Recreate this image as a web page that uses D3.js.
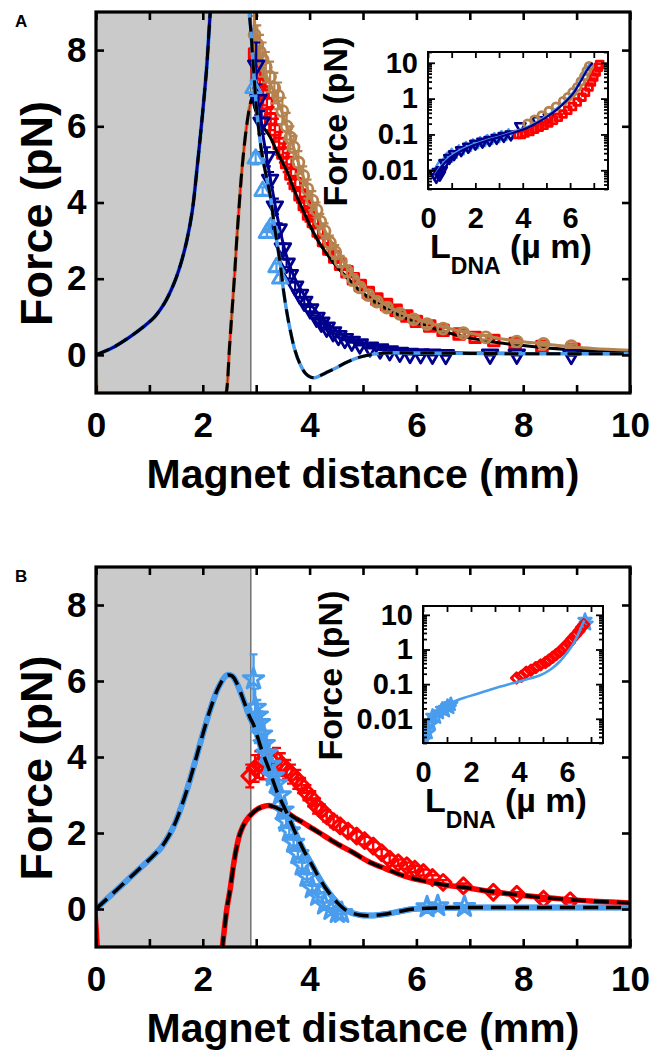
<!DOCTYPE html>
<html><head><meta charset="utf-8">
<script src="https://cdn.jsdelivr.net/npm/d3@7"></script>
<style>
body{margin:0;background:#fff}
svg{display:block}
text{font-family:"Liberation Sans",Arial,Helvetica,sans-serif;font-weight:bold;fill:#000}
</style>
</head><body>
<svg id="c" width="662" height="1053"></svg>
<script>
// ---------------- axes / ticks ----------------
const xDomain = [0, 10];
const yDomain = [-1, 9];
const xTicks = [0,1,2,3,4,5,6,7,8,9,10];
const xTickLabels = ['0','','2','','4','','6','','8','','10'];
const yTicks = [0,2,4,6,8];
const shadeEdge = 2.9;
const insetXTicks = [0,1,2,3,4,5,6,7];
const insetXTickLabels = ['0','','2','','4','','6',''];
const insetYMajor = [0.01,0.1,1,10];
const insetYMajorLabels = ['0.01','0.1','1','10'];
const insetAXDomain = [0, 7.6];
const insetAYDomain = [0.003, 20];
const insetBXDomain = [0, 7.5];
const insetBYDomain = [0.002, 18];

// ---------------- Panel A curves [mm, pN] ----------------
const aLightFitL = [[0,0],[0.3,0.18],[0.6,0.44],[0.9,0.75],[1.1,1.0],[1.2,1.18],[1.3,1.4],[1.4,1.68],[1.5,2.02],[1.6,2.45],[1.7,3.0],[1.8,3.75],[1.9,5.0],[2.0,6.4],[2.07,7.5],[2.13,8.8],[2.17,9.6]];
const aLightFitR = [[2.84,9.4],[2.9,8.5],[2.95,7.5],[3.01,6.42],[3.1,5.35],[3.18,4.75],[3.26,4.2],[3.35,3.3],[3.45,2.39],[3.51,1.7],[3.57,1.15],[3.63,0.7],[3.72,0.15],[3.82,-0.24],[3.92,-0.48],[4.01,-0.58],[4.1,-0.6],[4.19,-0.55],[4.35,-0.44],[4.51,-0.33],[4.7,-0.19],[4.94,-0.06],[5.2,0.02],[5.44,0.05],[6,0.05],[7,0.04],[8,0.03],[10,0.03]];
const aNavyFitR = [[2.86,9.4],[2.92,8.2],[2.98,7.3],[3.04,6.6],[3.1,6.0],[3.2,5.15],[3.3,4.35],[3.4,3.6],[3.5,2.95],[3.6,2.45],[3.7,2.08],[3.8,1.8],[3.9,1.57],[4.0,1.37],[4.2,1.02],[4.4,0.75],[4.6,0.55],[4.8,0.42],[5.0,0.32],[5.3,0.22],[5.6,0.15],[6.0,0.1],[6.5,0.07],[7,0.05],[8,0.04],[10,0.03]];
const aBrownFitL = [[2.42,-1.1],[2.45,-0.9],[2.5,0.2],[2.55,1.2],[2.6,2.2],[2.63,2.9],[2.68,3.9],[2.72,4.65],[2.77,5.4],[2.82,6.0],[2.87,6.45],[2.92,6.73],[2.95,6.78]];
const aBrownEdge = [[0,0],[0.01,-0.5],[0.02,-1.1]];
const aBrownFitR = [[2.955,6.8],[2.96,9.3],[2.975,8.6],[3.0,8.2],[3.1,7.7],[3.2,7.3],[3.3,7.0],[3.4,6.7],[3.5,6.3],[3.6,5.9],[3.7,5.45],[3.8,5.0],[3.9,4.6],[4.0,4.2],[4.1,3.85],[4.2,3.5],[4.35,3.1],[4.5,2.75],[4.7,2.3],[4.9,1.95],[5.1,1.65],[5.3,1.42],[5.5,1.25],[5.75,1.08],[6.0,0.95],[6.3,0.82],[6.6,0.7],[6.9,0.6],[7.3,0.5],[7.8,0.38],[8.3,0.3],[8.8,0.23],[9.3,0.17],[10,0.12]];
const aBlackFitR = [[2.93,6.78],[2.97,6.5],[3.05,6.2],[3.15,5.95],[3.26,5.72],[3.4,5.3],[3.57,4.84],[3.72,4.3],[3.88,3.79],[4.03,3.33],[4.19,2.92],[4.35,2.6],[4.5,2.33],[4.65,2.1],[4.81,1.87],[5.0,1.62],[5.2,1.42],[5.44,1.22],[5.7,1.03],[5.94,0.88],[6.2,0.75],[6.5,0.62],[6.88,0.48],[7.3,0.37],[7.82,0.27],[8.3,0.2],[8.75,0.15],[9.3,0.1],[10,0.06]];

// ---------------- Panel A data [mm, pN, error] ----------------
const aRedData = [[2.97,7.9,0.45],[3.02,7.4,0.4],[3.07,7.1,0.4],[3.13,6.9,0.35],[3.2,6.6,0.35],[3.27,6.2,0.3],[3.35,5.9,0.3],[3.43,5.55,0.3],[3.5,5.3,0.25],[3.57,5.05,0.25],[3.65,4.75,0.25],[3.73,4.5,0.2],[3.82,4.2,0.2],[3.9,3.95,0.2],[3.98,3.7,0.2],[4.07,3.5,0.18],[4.16,3.25,0.18],[4.26,3.0,0.15],[4.36,2.78,0.15],[4.47,2.57,0.15],[4.58,2.38,0.12],[4.7,2.18,0.12],[4.82,2.0,0.12],[4.95,1.82,0.1],[5.1,1.64,0.1],[5.26,1.47,0.1],[5.44,1.32,0.1],[5.62,1.17,0.08],[5.82,1.02,0.08],[6.0,0.88,0.08],[6.25,0.76,0.06],[6.5,0.65,0.06],[6.8,0.55,0.06],[7.1,0.46,0.05],[7.45,0.38,0.05],[7.85,0.3,0.05],[8.35,0.22,0.05],[8.95,0.15,0.1]];
const aBrownData = [[2.97,8.4,0.5],[3.02,8.15,0.5],[3.07,7.95,0.45],[3.12,7.75,0.45],[3.18,7.55,0.4],[3.26,7.3,0.4],[3.34,7.0,0.4],[3.41,6.8,0.35],[3.49,6.4,0.35],[3.57,6.0,0.35],[3.64,5.7,0.3],[3.7,5.45,0.3],[3.79,5.05,0.3],[3.88,4.7,0.25],[3.96,4.35,0.25],[4.05,4.05,0.25],[4.13,3.8,0.2],[4.2,3.5,0.2],[4.28,3.25,0.2],[4.38,2.95,0.18],[4.48,2.7,0.18],[4.58,2.45,0.15],[4.7,2.2,0.15],[4.82,1.97,0.15],[4.94,1.77,0.12],[5.1,1.57,0.12],[5.26,1.4,0.1],[5.45,1.24,0.1],[5.69,1.08,0.1],[5.95,0.93,0.08],[6.2,0.81,0.08],[6.5,0.69,0.07],[6.88,0.57,0.07],[7.3,0.46,0.06],[7.88,0.35,0.05],[8.38,0.29,0.05],[8.9,0.23,0.05]];
const aNavyData = [[3.0,7.6,0.6],[3.04,6.7,0.4],[3.1,6.1,0.3],[3.2,5.2,0.25],[3.26,4.6,0.2],[3.35,3.9,0.2],[3.42,3.3,0.15],[3.5,2.8,0.12],[3.57,2.4,0.1],[3.63,2.1,0.1],[3.73,1.8,0.1],[3.82,1.58,0.08],[3.9,1.4,0.08],[4.01,1.2,0.06],[4.13,0.98,0.05],[4.22,0.85,0.05],[4.32,0.72,0.05],[4.44,0.6,0.04],[4.54,0.5,0.04],[4.66,0.42,0.03],[4.79,0.35,0.03],[4.94,0.28,0.03],[5.13,0.2,0.03],[5.32,0.15,0.02],[5.5,0.1,0.02],[5.69,0.06,0.02],[5.88,0.03,0.02],[6.08,0.02,0.02],[6.3,0.01,0.02],[6.55,0.0,0.02],[7.38,0.01,0.02],[7.88,0.01,0.02],[8.9,0.0,0.02]];
const aLightData = [[2.95,7.0,0.2],[2.99,5.15,0.15],[3.12,4.3,0.1],[3.2,3.2,0.1],[3.27,3.35,0.1],[3.38,2.3,0.1],[3.45,2.0,0.1]];

// ---------------- Panel A inset [um, pN] ----------------
const iALightFit = [[0.3,0.0075],[0.5,0.012],[0.78,0.02],[1.0,0.026],[1.34,0.036],[1.8,0.05],[2.47,0.07],[3.0,0.088],[3.46,0.11],[4.17,0.16],[4.6,0.22],[5.02,0.33],[5.45,0.55],[5.86,0.95],[6.15,1.6],[6.43,3.2],[6.65,6],[6.85,10]];
const iANavyFit = [[0.3,0.007],[0.5,0.011],[0.78,0.018],[1.0,0.024],[1.34,0.033],[1.8,0.046],[2.47,0.066],[3.0,0.084],[3.46,0.105],[4.17,0.15],[4.6,0.21],[5.02,0.31],[5.45,0.5],[5.86,0.88],[6.15,1.45],[6.43,2.9],[6.7,6],[6.95,10]];
const iALight = [[0.5,0.013],[0.8,0.021],[1.0,0.027],[1.3,0.034],[1.6,0.042],[1.9,0.05],[2.2,0.058],[2.5,0.066],[2.8,0.075],[3.1,0.085],[3.4,0.095]];
const iANavy = [[0.28,0.008],[0.35,0.0065],[0.42,0.009],[0.5,0.0075],[0.58,0.01],[0.7,0.016],[0.9,0.022],[1.1,0.028],[1.4,0.036],[1.7,0.045],[2.0,0.055],[2.3,0.063],[2.6,0.07],[2.9,0.08],[3.2,0.09],[3.5,0.1],[3.9,0.17],[4.6,0.25],[5.1,0.3]];
const iARed = [[3.8,0.1],[3.95,0.1],[4.1,0.11],[4.3,0.12],[4.5,0.14],[4.7,0.16],[4.9,0.18],[5.1,0.21],[5.3,0.25],[5.5,0.3],[5.7,0.37],[5.9,0.47],[6.1,0.6],[6.3,0.8],[6.5,1.1],[6.65,1.5],[6.8,2.1],[6.9,2.9],[7.0,4.0],[7.1,5.5],[7.2,7.5],[7.25,9]];
const iABrown = [[4.2,0.2],[4.5,0.26],[4.8,0.34],[5.1,0.45],[5.4,0.6],[5.7,0.85],[5.9,1.1],[6.1,1.5],[6.3,2.1],[6.45,3],[6.6,4.2],[6.7,6],[6.8,8]];

// ---------------- Panel B curves ----------------
const bBlueFit = [[0,0],[0.2,0.26],[0.4,0.52],[0.6,0.78],[0.8,1.04],[1.0,1.3],[1.1,1.44],[1.2,1.58],[1.3,1.78],[1.4,2.02],[1.5,2.32],[1.6,2.7],[1.7,3.12],[1.8,3.6],[1.9,4.1],[2.0,4.6],[2.15,5.3],[2.3,5.85],[2.45,6.15],[2.55,6.13],[2.65,5.9],[2.76,5.5],[2.88,5.05],[2.95,4.85],[3.1,4.2],[3.26,3.6],[3.4,3.05],[3.57,2.54],[3.72,2.05],[3.88,1.57],[4.05,1.15],[4.19,0.79],[4.35,0.45],[4.51,0.18],[4.7,-0.05],[4.94,-0.16],[5.2,-0.17],[5.44,-0.13],[5.7,-0.06],[5.94,0.0],[6.5,0.03],[7,0.04],[8,0.04],[10,0.04]];
const bRedEdge = [[0,0],[0.02,-0.4],[0.05,-1.1]];
const bRedFit = [[2.36,-1.1],[2.45,0.0],[2.51,0.5],[2.58,1.2],[2.63,1.6],[2.7,2.0],[2.8,2.3],[2.95,2.55],[3.1,2.68],[3.26,2.72],[3.4,2.65],[3.57,2.54],[3.72,2.4],[3.88,2.27],[4.05,2.12],[4.19,2.0],[4.5,1.73],[4.81,1.49],[5.1,1.25],[5.44,1.05],[5.75,0.88],[6.07,0.76],[6.5,0.64],[6.88,0.57],[7.5,0.44],[8.1,0.34],[8.75,0.26],[9.4,0.2],[10,0.16]];
const bRedData = [[2.88,3.5,0.3],[2.98,3.7,0.35],[3.05,3.8,0.35],[3.13,3.76,0.35],[3.2,3.85,0.3],[3.28,3.9,0.3],[3.38,3.94,0.3],[3.47,3.8,0.3],[3.57,3.67,0.25],[3.66,3.55,0.25],[3.76,3.41,0.25],[3.85,3.25,0.2],[3.95,3.06,0.2],[4.04,2.9,0.2],[4.13,2.71,0.2],[4.22,2.6,0.15],[4.32,2.45,0.15],[4.45,2.3,0.15],[4.57,2.19,0.12],[4.72,2.05,0.12],[4.88,1.92,0.12],[5.03,1.8,0.1],[5.19,1.66,0.1],[5.35,1.48,0.1],[5.5,1.31,0.1],[5.66,1.22,0.08],[5.82,1.14,0.08],[5.97,1.05,0.08],[6.13,0.96,0.08],[6.3,0.83,0.06],[6.5,0.7,0.06],[6.88,0.61,0.06],[7.44,0.44,0.05],[7.88,0.39,0.05],[8.38,0.26,0.05],[8.88,0.22,0.05]];
const bBlueData = [[2.95,6.05,0.65],[2.98,5.3,0.5],[3.02,5.1,0.4],[3.06,4.9,0.3],[3.1,4.6,0.25],[3.15,4.35,0.2],[3.2,4.1,0.2],[3.26,3.8,0.15],[3.32,3.5,0.15],[3.38,3.3,0.1],[3.45,3.0,0.1],[3.5,2.6,0.1],[3.56,2.3,0.1],[3.62,2.05,0.1],[3.7,1.75,0.08],[3.78,1.45,0.08],[3.86,1.15,0.08],[3.95,0.85,0.06],[4.05,0.55,0.06],[4.15,0.35,0.05],[4.28,0.12,0.05],[4.4,-0.02,0.04],[4.52,-0.1,0.04],[4.6,-0.1,0.04],[6.2,0.05,0.04],[6.4,0.08,0.04],[6.9,0.06,0.04]];

// ---------------- Panel B inset ----------------
const iBBlueFit = [[0.05,0.0023],[0.12,0.004],[0.19,0.0063],[0.3,0.009],[0.47,0.012],[0.7,0.018],[1.02,0.026],[1.6,0.038],[2.4,0.056],[3.1,0.08],[3.77,0.107],[4.3,0.135],[4.88,0.18],[5.3,0.26],[5.7,0.45],[6.0,0.8],[6.25,1.4],[6.45,2.6],[6.6,4.5],[6.72,7]];
const iBBlue = [[0.02,0.0032],[0.05,0.0025],[0.12,0.005],[0.2,0.004],[0.26,0.008],[0.33,0.007],[0.4,0.012],[0.55,0.011],[0.67,0.015],[0.81,0.019],[0.92,0.017],[1.02,0.023],[1.1,0.021],[1.16,0.026],[6.75,7.0],[6.8,5.5]];
const iBRed = [[3.9,0.15],[4.1,0.17],[4.3,0.22],[4.5,0.25],[4.7,0.3],[4.9,0.36],[5.1,0.42],[5.25,0.5],[5.4,0.6],[5.55,0.72],[5.7,0.88],[5.85,1.05],[5.95,1.3],[6.1,1.6],[6.2,2.0],[6.35,2.6],[6.5,3.4],[6.6,4.3],[6.7,5.2]];

// ---------------- drawing ----------------
const COL = {lblue:'#4a9ded', navy:'#00008c', red:'#ff0000', brown:'#b5834f', grey:'#cacaca'};
const svg = d3.select('#c');
let clipN = 0;

function drawLine(g, x, y, data, color, width, dash){
  const p = g.append('path').datum(data)
    .attr('d', d3.line().x(d=>x(d[0])).y(d=>y(d[1])).curve(d3.curveCatmullRom.alpha(0.5)))
    .attr('fill','none').attr('stroke',color).attr('stroke-width',width)
    .attr('stroke-linejoin','round');
  if (dash) p.attr('stroke-dasharray', dash);
  return p;
}
function drawMarkers(g, x, y, data, type, size, rot, color, sw, capW){
  if (capW) {
    const eb = g.append('g').attr('stroke',color).attr('stroke-width',Math.max(1.5,sw-0.6)).attr('fill','none');
    data.forEach(d=>{
      const cx=x(d[0]), y1=y(d[1]-d[2]), y2=y(d[1]+d[2]);
      eb.append('path').attr('d',`M${cx},${y1}V${y2}M${cx-capW},${y1}H${cx+capW}M${cx-capW},${y2}H${cx+capW}`);
    });
  }
  g.append('g').selectAll('path').data(data).join('path')
    .attr('transform', d=>`translate(${x(d[0])},${y(d[1])}) rotate(${rot})`)
    .attr('d', d3.symbol(type, size))
    .attr('fill','none').attr('stroke',color).attr('stroke-width',sw).attr('stroke-linejoin','round');
}
function makeClip(x0,y0,w,h){
  const id='clip'+(clipN++);
  svg.append('clipPath').attr('id',id).append('rect').attr('x',x0).attr('y',y0).attr('width',w).attr('height',h);
  return `url(#${id})`;
}

function mainPanel(top, bottom, letter, drawData){
  const L=96, R=630;
  const x = d3.scaleLinear().domain(xDomain).range([L,R]);
  const y = d3.scaleLinear().domain(yDomain).range([bottom,top]);
  const g = svg.append('g');
  g.append('rect').attr('x',x(0)).attr('y',top).attr('width',x(shadeEdge)-x(0)).attr('height',bottom-top).attr('fill',COL.grey);
  g.append('line').attr('x1',x(shadeEdge)).attr('x2',x(shadeEdge)).attr('y1',top).attr('y2',bottom).attr('stroke','#555').attr('stroke-width',1.2);
  const dg = g.append('g').attr('clip-path', makeClip(L,top,R-L,bottom-top));
  drawData(dg, x, y);
  const fs = 35;
  const ax = g.append('g').attr('transform',`translate(0,${bottom})`)
    .call(d3.axisBottom(x).tickValues(xTicks).tickSizeInner(-8).tickSizeOuter(0).tickPadding(19).tickFormat((d,i)=>xTickLabels[i]));
  const axT = g.append('g').attr('transform',`translate(0,${top})`)
    .call(d3.axisTop(x).tickValues(xTicks).tickSizeInner(-8).tickSizeOuter(0).tickFormat(''));
  const ay = g.append('g').attr('transform',`translate(${L},0)`)
    .call(d3.axisLeft(y).tickValues(yTicks).tickSizeInner(-8).tickSizeOuter(0).tickPadding(9.5).tickFormat(d3.format('d')));
  const ayR = g.append('g').attr('transform',`translate(${R},0)`)
    .call(d3.axisRight(y).tickValues(yTicks).tickSizeInner(-8).tickSizeOuter(0).tickFormat(''));
  [ax,axT,ay,ayR].forEach(a=>{
    a.attr('font-size',fs).attr('font-family',null);
    a.select('.domain').remove();
    a.selectAll('line').attr('stroke','#000').attr('stroke-width',2.6);
  });
  g.append('rect').attr('x',L).attr('y',top).attr('width',R-L).attr('height',bottom-top)
    .attr('fill','none').attr('stroke','#000').attr('stroke-width',3.2);
  g.append('text').attr('x',(L+R)/2).attr('y',bottom+95).attr('text-anchor','middle').attr('font-size',41).text('Magnet distance (mm)');
  g.append('text').attr('transform',`translate(52,${(top+bottom)/2+11}) rotate(-90)`).attr('text-anchor','middle').attr('font-size',45).text('Force (pN)');
  g.append('text').attr('x',15).attr('y',top+15).attr('font-size',17).text(letter);
  return g;
}

function insetPanel(cfg, drawData){
  const {l,r,t,b} = cfg;
  const x = d3.scaleLinear().domain(cfg.xd).range([l,r]);
  const y = d3.scaleLog().domain(cfg.yd).range([b,t]);
  const g = svg.append('g');
  g.append('rect').attr('x',l).attr('y',t).attr('width',r-l).attr('height',b-t).attr('fill','#fff');
  const dg = g.append('g').attr('clip-path', makeClip(l,t,r-l,b-t));
  drawData(dg, x, y);
  const yAll = [];
  for (let e=-3;e<=1;e++) for (let m=1;m<=9;m++){ const v=m*Math.pow(10,e); if (v>=cfg.yd[0] && v<=cfg.yd[1]) yAll.push(v); }
  const isMajor = v => insetYMajor.some(m=>Math.abs(m-v)/m<1e-6);
  const ay = g.append('g').attr('transform',`translate(${l},0)`)
    .call(d3.axisLeft(y).tickValues(yAll).tickSizeInner(-4).tickSizeOuter(0).tickPadding(10)
      .tickFormat(v=>{const i=insetYMajor.findIndex(m=>Math.abs(m-v)/m<1e-6); return i>=0?insetYMajorLabels[i]:'';}));
  const ayR = g.append('g').attr('transform',`translate(${r},0)`)
    .call(d3.axisRight(y).tickValues(yAll).tickSizeInner(-4).tickSizeOuter(0).tickFormat(''));
  ay.selectAll('.tick line').attr('x2', v=>isMajor(v)?7:4);
  ayR.selectAll('.tick line').attr('x2', v=>isMajor(v)?-7:-4);
  const ax = g.append('g').attr('transform',`translate(0,${b})`)
    .call(d3.axisBottom(x).tickValues(insetXTicks).tickSizeInner(-6).tickSizeOuter(0).tickPadding(18).tickFormat((d,i)=>insetXTickLabels[i]));
  const axT = g.append('g').attr('transform',`translate(0,${t})`)
    .call(d3.axisTop(x).tickValues(insetXTicks).tickSizeInner(-6).tickSizeOuter(0).tickFormat(''));
  [ax,axT,ay,ayR].forEach(a=>{
    a.attr('font-size',29).attr('font-family',null);
    a.select('.domain').remove();
    a.selectAll('line').attr('stroke','#000').attr('stroke-width',1.8);
  });
  g.append('rect').attr('x',l).attr('y',t).attr('width',r-l).attr('height',b-t)
    .attr('fill','none').attr('stroke','#000').attr('stroke-width',2);
  g.append('text').attr('transform',`translate(${l-81},${(t+b)/2+1}) rotate(-90)`).attr('text-anchor','middle').attr('font-size',34).text('Force (pN)');
  const lt = g.append('text').attr('x',l+2).attr('y',b+69).attr('font-size',34);
  lt.append('tspan').text('L');
  lt.append('tspan').attr('font-size',23).attr('dy',16).text('DNA');
  lt.append('tspan').attr('dy',-16).attr('x',l+82).text('(µ m)');
}

// Panel A
mainPanel(12, 393, 'A', (g,x,y)=>{
  drawLine(g,x,y,aLightFitL,COL.lblue,4);
  drawLine(g,x,y,aLightFitL,COL.navy,3);
  drawLine(g,x,y,aLightFitL,'#000',3,'14,7');
  drawLine(g,x,y,aBrownEdge,COL.brown,3);
  drawLine(g,x,y,aBrownFitL,COL.brown,3.5);
  drawLine(g,x,y,aBrownFitL,COL.red,1.4);
  drawLine(g,x,y,aBrownFitL,'#000',3,'14,7');
  drawMarkers(g,x,y,aRedData,d3.symbolSquare,110,0,COL.red,3,4);
  drawLine(g,x,y,aBlackFitR,'#000',3);
  drawMarkers(g,x,y,aBrownData,d3.symbolCircle,95,0,COL.brown,2.8,4);
  drawLine(g,x,y,aBrownFitR,COL.brown,3);
  drawMarkers(g,x,y,aNavyData,d3.symbolTriangle,105,180,COL.navy,2.8,4);
  drawLine(g,x,y,aNavyFitR,COL.navy,3);
  drawMarkers(g,x,y,aLightData,d3.symbolTriangle,105,0,COL.lblue,2.8,4);
  drawLine(g,x,y,aLightFitR,COL.lblue,3.5);
  drawLine(g,x,y,aLightFitR,'#000',3,'14,7');
});
insetPanel({l:428,r:608,t:52,b:189,xd:insetAXDomain,yd:insetAYDomain},(g,x,y)=>{
  drawMarkers(g,x,y,iALight,d3.symbolTriangle,45,0,COL.lblue,2.6);
  drawMarkers(g,x,y,iANavy,d3.symbolTriangle,45,180,COL.navy,2.6);
  drawMarkers(g,x,y,iARed,d3.symbolSquare,45,0,COL.red,2.8);
  drawMarkers(g,x,y,iABrown,d3.symbolCircle,45,0,COL.brown,2.8);
  drawLine(g,x,y,iALightFit,COL.lblue,2.2);
  drawLine(g,x,y,iANavyFit,COL.navy,2.2);
});

// Panel B
mainPanel(567, 947, 'B', (g,x,y)=>{
  drawLine(g,x,y,bRedEdge,COL.red,3);
  drawLine(g,x,y,bBlueFit,COL.lblue,6);
  drawMarkers(g,x,y,bRedData,d3.symbolSquare,125,45,COL.red,3,4.5);
  drawLine(g,x,y,bRedFit,COL.red,5.5);
  drawMarkers(g,x,y,bBlueData,d3.symbolStar,130,0,COL.lblue,3,4);
  drawLine(g,x,y,bBlueFit,COL.lblue,5.5);
  drawLine(g,x,y,bBlueFit,'#000',3.5,'15,8');
  drawLine(g,x,y,bRedFit,'#000',3.5,'15,8');
});
insetPanel({l:423,r:603,t:606,b:743,xd:insetBXDomain,yd:insetBYDomain},(g,x,y)=>{
  drawMarkers(g,x,y,iBBlue,d3.symbolStar,50,0,COL.lblue,2.6);
  drawMarkers(g,x,y,iBRed,d3.symbolSquare,55,45,COL.red,2.8);
  drawLine(g,x,y,iBBlueFit,COL.lblue,2.6);
});
</script>
</body></html>
